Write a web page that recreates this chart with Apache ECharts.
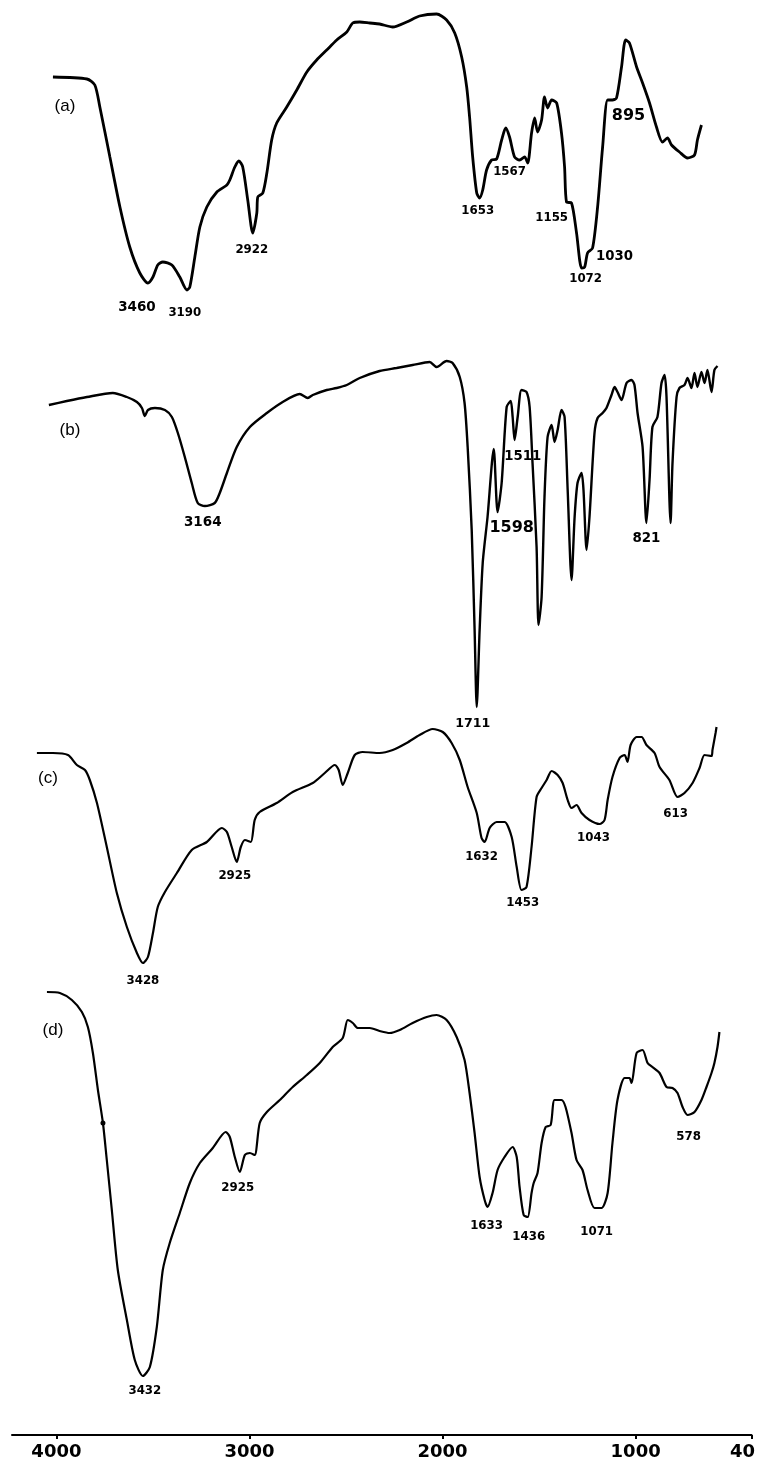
<!DOCTYPE html>
<html><head><meta charset="utf-8">
<script src="https://cdn.jsdelivr.net/npm/echarts@6/dist/echarts.min.js"></script>
<style>html,body{margin:0;padding:0;background:#fff}#c{width:758px;height:1464px}</style>
</head><body><div id="c"></div>
<script>
// x tick values (wavenumber, cm-1) and their printed labels
const xTickValues = [4000, 3000, 2000, 1000, 400];
const xTickLabels = ['4000', '3000', '2000', '1000', '40'];

// spectra: [wavenumber, transmittance (a.u., stacked)]
const spectrumA = [
 [4018,135.8],[3842,135.6],[3801,135.0],[3775,132.8],[3723,127.8],[3671,122.8],[3620,118.8],[3568,116.2],
 [3526,115.2],[3500,115.8],[3475,117.0],[3449,117.3],[3402,117.0],[3361,115.8],[3324,114.5],[3309,114.8],
 [3283,117.8],[3257,120.8],[3221,122.8],[3169,124.3],[3117,125.0],[3102,125.5],[3076,126.8],[3055,127.4],
 [3035,126.8],[3009,123.5],[2983,120.2],[2962,122.2],[2957,123.8],[2931,124.2],[2910,126.2],[2885,129.5],
 [2859,131.2],[2807,132.8],[2755,134.5],[2703,136.3],[2652,137.5],[2600,138.5],[2548,139.5],[2496,140.3],
 [2465,141.2],[2429,141.3],[2377,141.2],[2326,141.1],[2258,140.8],[2186,141.3],[2119,141.9],[2031,142.1],
 [1979,141.5],[1937,140.2],[1901,137.8],[1875,134.8],[1860,131.8],[1844,127.8],[1823,124.2],[1808,123.7],
 [1792,124.5],[1772,126.5],[1746,127.5],[1720,127.6],[1694,129.5],[1673,130.7],[1653,129.8],[1627,127.8],
 [1601,127.5],[1575,127.8],[1559,127.2],[1539,130.2],[1523,131.7],[1508,130.3],[1487,131.5],[1472,133.8],
 [1456,132.7],[1435,133.5],[1409,133.2],[1384,130.2],[1368,126.8],[1358,123.3],[1332,123.2],[1306,120.2],
 [1280,116.7],[1264,116.8],[1249,118.2],[1223,118.7],[1197,122.8],[1171,128.8],[1145,133.5],[1120,133.5],
 [1099,133.7],[1073,136.8],[1052,139.5],[1032,139.2],[995,136.8],[964,135.2],[928,133.2],[892,130.8],
 [861,129.3],[835,129.7],[814,129.0],[773,128.3],[731,127.7],[695,128.0],[680,129.5],[659,131.0]
];
const spectrumB = [
 [4039,103.0],[3946,103.4],[3842,103.8],[3708,104.2],[3635,103.8],[3583,103.3],[3557,102.7],[3542,101.9],
 [3526,102.5],[3490,102.7],[3438,102.5],[3402,101.8],[3371,100.2],[3335,97.8],[3299,95.2],[3268,93.2],
 [3231,92.9],[3180,93.2],[3154,94.2],[3117,96.2],[3066,98.8],[2998,100.8],[2910,102.2],[2828,103.3],
 [2740,104.1],[2698,103.7],[2672,104.0],[2600,104.5],[2548,104.7],[2496,105.0],[2429,105.7],[2326,106.4],
 [2238,106.7],[2155,107.0],[2067,107.3],[2031,106.8],[1979,107.4],[1948,107.2],[1911,105.8],[1886,103.2],
 [1870,98.8],[1849,90.5],[1834,80.5],[1823,72.8],[1808,80.5],[1792,87.2],[1767,91.8],[1735,98.6],
 [1715,92.3],[1694,95.2],[1668,102.8],[1647,103.4],[1637,101.8],[1627,99.5],[1611,101.8],[1591,104.5],
 [1565,104.3],[1549,102.8],[1534,97.2],[1513,88.8],[1503,81.0],[1487,83.8],[1472,93.8],[1456,99.8],
 [1435,101.0],[1420,99.3],[1404,100.5],[1384,102.5],[1368,101.8],[1352,94.5],[1332,85.5],[1316,91.8],
 [1301,95.2],[1280,96.2],[1270,94.5],[1254,88.5],[1239,91.8],[1213,100.2],[1197,101.7],[1171,102.2],
 [1151,102.7],[1125,104.0],[1109,104.8],[1094,104.3],[1073,103.5],[1047,105.2],[1021,105.5],[1006,105.0],
 [990,102.2],[964,98.8],[944,91.2],[928,95.5],[913,100.8],[887,101.8],[866,105.2],[850,106.0],
 [840,103.8],[819,91.2],[809,97.2],[788,103.8],[773,104.7],[747,105.0],[731,105.7],[711,104.7],
 [695,106.2],[680,104.8],[659,106.3],[643,105.2],[628,106.5],[607,104.3],[592,106.5],[576,106.9]
];
const spectrumC = [
 [4101,68.2],[4018,68.2],[3940,68.0],[3894,67.0],[3852,66.5],[3827,65.5],[3790,63.2],[3739,58.8],
 [3687,54.2],[3635,50.8],[3583,48.2],[3552,47.2],[3526,47.8],[3500,50.2],[3475,52.8],[3438,54.3],
 [3376,56.2],[3299,58.5],[3221,59.3],[3143,60.7],[3117,60.3],[3092,58.8],[3066,57.3],[3045,58.8],
 [3024,59.5],[2993,59.3],[2973,61.5],[2947,62.3],[2859,63.2],[2776,64.3],[2672,65.2],[2610,66.2],
 [2558,67.0],[2538,66.5],[2517,65.0],[2491,66.2],[2455,68.0],[2414,68.3],[2326,68.2],[2258,68.5],
 [2186,69.2],[2119,70.0],[2051,70.6],[1999,70.3],[1953,69.2],[1911,67.5],[1870,64.8],[1823,62.2],
 [1798,59.7],[1782,59.3],[1756,60.7],[1720,61.3],[1679,61.3],[1642,59.8],[1616,56.8],[1591,54.5],
 [1565,54.8],[1539,58.8],[1513,63.8],[1487,64.7],[1461,65.5],[1435,66.4],[1404,66.0],[1378,65.2],
 [1352,63.5],[1332,62.7],[1306,63.0],[1280,62.2],[1239,61.5],[1187,61.1],[1161,61.5],[1145,63.5],
 [1120,65.8],[1083,67.7],[1057,68.0],[1042,67.3],[1026,69.0],[995,69.8],[969,69.8],[944,69.0],
 [902,68.2],[876,66.8],[825,65.5],[783,63.8],[747,64.2],[705,65.2],[669,66.7],[643,68.0],
 [607,67.9],[602,68.5],[586,70.2],[581,70.8]
];
const spectrumD = [
 [4049,44.3],[3982,44.2],[3920,43.5],[3868,42.3],[3837,40.8],[3811,38.2],[3785,34.5],[3759,31.2],
 [3739,27.5],[3713,22.5],[3682,16.5],[3635,11.5],[3594,7.5],[3552,5.9],[3516,6.8],[3480,10.8],
 [3449,16.5],[3413,19.2],[3361,22.2],[3309,25.2],[3257,27.2],[3190,28.7],[3123,30.3],[3102,29.8],
 [3076,27.8],[3050,26.3],[3024,28.0],[2998,28.2],[2973,28.0],[2947,31.2],[2910,32.3],[2843,33.5],
 [2776,34.8],[2703,36.0],[2636,37.2],[2569,38.8],[2517,39.7],[2491,41.5],[2465,41.2],[2439,40.7],
 [2377,40.7],[2326,40.4],[2274,40.2],[2222,40.5],[2155,41.2],[2082,41.8],[2031,42.0],[1979,41.5],
 [1927,39.8],[1886,37.5],[1860,34.2],[1834,30.2],[1808,25.8],[1782,23.5],[1767,22.8],[1741,24.2],
 [1715,26.5],[1679,27.8],[1637,28.8],[1616,27.8],[1601,24.8],[1580,22.0],[1559,21.8],[1539,24.2],
 [1528,25.2],[1508,26.2],[1487,29.2],[1466,30.8],[1440,31.0],[1420,33.5],[1384,33.5],[1363,32.8],
 [1332,30.2],[1306,27.5],[1275,26.5],[1249,24.5],[1213,22.7],[1176,22.7],[1145,24.2],[1120,29.2],
 [1094,33.5],[1057,35.7],[1032,35.7],[1021,35.2],[995,38.2],[964,38.5],[938,37.2],[913,36.8],
 [876,36.2],[840,34.8],[809,34.7],[783,34.2],[757,32.8],[731,32.0],[695,32.3],[659,33.5],
 [633,34.8],[607,36.2],[592,37.2],[576,38.8],[566,40.3]
];
// small dot on spectrum (d)
const markerD = [[3759,31.2]];

// peak annotations: [wavenumber, transmittance, text]
const peaksA = [[3583,112.8,'3460'],[3335,112.2,'3190'],[2988,118.5,'2922'],[1818,122.4,'1653'],[1653,126.3,'1567'],
 [1435,121.7,'1155'],[1259,115.6,'1072'],[1109,117.8,'1030'],[1037,131.9,'895']];
const peaksB = [[3242,91.3,'3164'],[1844,71.1,'1711'],[1585,97.8,'1511'],[1642,90.7,'1598'],[944,89.6,'821']];
const peaksC = [[3552,45.4,'3428'],[3076,55.9,'2925'],[1798,57.8,'1632'],[1585,53.2,'1453'],[1218,59.7,'1043'],[793,62.1,'613']];
const peaksD = [[3542,4.4,'3432'],[3061,24.7,'2925'],[1772,20.9,'1633'],[1554,19.8,'1436'],[1202,20.3,'1071'],[726,29.8,'578']];
// panel letters: [wavenumber, transmittance, text]
const panels = [[3956,132.9,'(a)'],[3930,100.5,'(b)'],[4044,65.7,'(c)'],[4018,40.5,'(d)']];

const largeLabels = {'895':16,'1598':16,'3460':13.5,'1030':13.3,'3164':13.5,'1511':13.3,'821':13.4,'1711':12.6};

function lineSeries(data, w) {
  return {type:'line', data:data, showSymbol:false, smooth:0.25, silent:true,
    lineStyle:{color:'#000', width:w}, z:2};
}
function labelSeries(list, makeStyle) {
  return {type:'scatter', symbolSize:0, silent:true, z:5,
    itemStyle:{opacity:1, color:'#000'},
    data:list.map(p => ({value:[p[0],p[1]], name:p[2], label:makeStyle(p[2])})),
    label:{show:true, position:'inside', formatter:'{b}', color:'#000', opacity:1}};
}
const peakStyle = t => ({show:true, color:'#000', opacity:1, fontSize: largeLabels[t] || 11.8, fontWeight:'bold', fontFamily:'DejaVu Sans'});
const panelStyle = t => ({show:true, color:'#000', opacity:1, fontSize:17, fontWeight:'normal', fontFamily:'Liberation Sans'});

const chart = echarts.init(document.getElementById('c'), null, {renderer:'canvas'});
chart.setOption({
  animation:false,
  backgroundColor:'#fff',
  grid:{left:12, right:6, top:0, bottom:29, containLabel:false},
  xAxis:{type:'value', inverse:true, min:400, max:4230,
    splitLine:{show:false},
    axisLine:{show:true, onZero:false, lineStyle:{color:'#000', width:2}},
    axisTick:{show:true, customValues:xTickValues, length:4, lineStyle:{color:'#000', width:2}},
    axisLabel:{show:true, customValues:xTickValues, margin:8, color:'#000',
      fontSize:18, fontWeight:'bold', fontFamily:'DejaVu Sans',
      formatter:function(v){ const i = xTickValues.indexOf(v); const t = i>=0 ? xTickLabels[i] : ''; return v===400 ? '{r|'+t+'}' : t; },
      rich:{r:{fontSize:18, fontWeight:'bold', fontFamily:'DejaVu Sans', color:'#000', padding:[0,18,0,0]}}}
  },
  yAxis:{type:'value', min:0, max:143.5, show:false, splitLine:{show:false}},
  series:[
    lineSeries(spectrumA, 2.8),
    lineSeries(spectrumB, 2.4),
    lineSeries(spectrumC, 2.2),
    lineSeries(spectrumD, 2.2),
    {type:'scatter', data:markerD, symbolSize:5, itemStyle:{color:'#000', opacity:1}, silent:true, z:3},
    labelSeries(peaksA, peakStyle),
    labelSeries(peaksB, peakStyle),
    labelSeries(peaksC, peakStyle),
    labelSeries(peaksD, peakStyle),
    labelSeries(panels, panelStyle)
  ]
});
</script></body></html>
